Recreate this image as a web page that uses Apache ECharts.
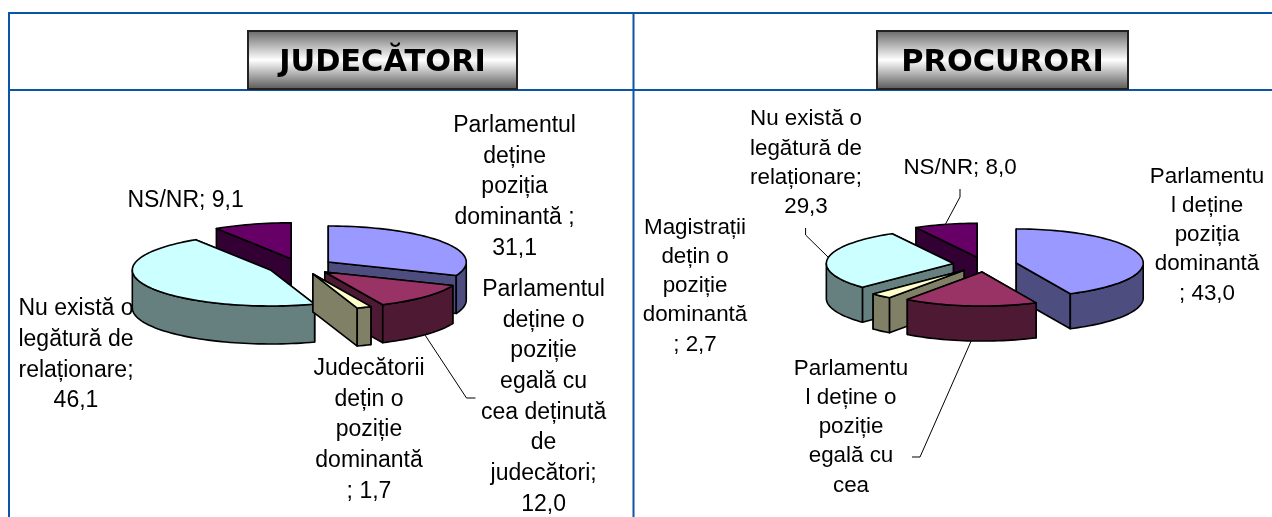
<!DOCTYPE html>
<html><head><meta charset="utf-8">
<style>html,body{margin:0;padding:0;background:#fff}#c{width:1272px;height:517px}</style>
<script src="https://cdn.jsdelivr.net/npm/echarts@6/dist/echarts.min.js"></script>
</head><body><div id="c"></div>
<script>
// ---- data
const judecatoriValues = [31.1, 12.0, 1.7, 46.1, 9.1];
const procuroriValues  = [43.0, 17.0, 2.7, 29.3, 8.0];
const judecatoriLabels = [
  ['Parlamentul','deține','poziția','dominantă ;','31,1'],
  ['Parlamentul','deține o','poziție','egală cu','cea deținută','de','judecători;','12,0'],
  ['Judecătorii','dețin o','poziție','dominantă','; 1,7'],
  ['Nu există o','legătură de','relaționare;','46,1'],
  ['NS/NR; 9,1']
];
const procuroriLabels = [
  ['Parlamentu','l deține','poziția','dominantă','; 43,0'],
  ['Parlamentu','l deține o','poziție','egală cu','cea'],
  ['Magistrații','dețin o','poziție','dominantă','; 2,7'],
  ['Nu există o','legătură de','relaționare;','29,3'],
  ['NS/NR; 8,0']
];
const titles = ['JUDECĂTORI','PROCURORI'];

// ---- styles and layout
const topColors  = ['#9999FF','#993366','#FFFFCC','#CCFFFF','#660066'];
const wallColors = ['#4D4D80','#4D1933','#808066','#668080','#330033'];
const pies = [
  {values:judecatoriValues, cx:300.5, cy:266.5, rx:138, ry:36, depth:38, ex:33.5, ey:8, order:[4,0,1,3,2]},
  {values:procuroriValues,  cx:985,   cy:264.6, rx:127, ry:34, depth:35, ex:32,   ey:7.5, order:[4,0,3,2,1]}
];
const labelLayout = [
  {lines:judecatoriLabels, size:23, lh:30.7, at:[[514.6,187],[543.6,397],[369,430],[76,355],[185.6,201]]},
  {lines:procuroriLabels,  size:22.4, lh:29.3, at:[[1207,235],[851,427],[695,286],[806,163],[960,168]]}
];
const leaders = [
  [[425,335],[466.5,398],[475.5,398]],
  [[960,189],[960,197],[945,225]],
  [[805.6,228],[805.6,235],[828,257]],
  [[972,339],[920,457],[912,457]]
];
const BLUE = '#0B55A6';
const rules = [[8,13,1272,13],[8,90,1272,90],[9,13,9,517],[633.5,13,633.5,517]];
const boxes = [[248,31,269,58],[877,31,251,58]];

const rad = d => d*Math.PI/180;
function sliceElements(p, i){
  const total = p.values.reduce((a,b)=>a+b,0);
  let before = 0; for(let k=0;k<i;k++) before += p.values[k];
  const a0 = before/total*360, a1 = (before+p.values[i])/total*360, mid=(a0+a1)/2;
  const ox = p.cx + p.ex*Math.sin(rad(mid)), oy = p.cy - p.ey*Math.cos(rad(mid));
  const pt = a => [ox+p.rx*Math.sin(rad(a)), oy-p.ry*Math.cos(rad(a))];
  const arc = (s,e) => { const r=[]; const n=Math.max(2,Math.ceil((e-s)/2));
    for(let k=0;k<=n;k++) r.push(pt(s+(e-s)*k/n)); return r; };
  const down = q => [q[0],q[1]+p.depth];
  const line = {stroke:'#000',lineWidth:1.6,lineJoin:'round'};
  const poly = (pts,fill) => ({type:'polygon',shape:{points:pts},style:Object.assign({fill:fill},line)});
  const wall = wallColors[i], top = topColors[i], apex=[ox,oy], kids=[];
  const w0 = poly([apex,pt(a0),down(pt(a0)),down(apex)],wall);
  const w1 = poly([apex,pt(a1),down(pt(a1)),down(apex)],wall);
  if(Math.sin(rad(a0))<0){ kids.push(w1,w0); } else { kids.push(w0,w1); }
  const s=Math.max(a0,90), e=Math.min(a1,270);
  if(e>s){ const r=arc(s,e); kids.push(poly(r.concat(r.map(down).reverse()),wall)); }
  kids.push(poly([apex].concat(arc(a0,a1)),top));
  return {type:'group',children:kids};
}

const graphic = [];
rules.forEach(r=>graphic.push({type:'line',shape:{x1:r[0],y1:r[1],x2:r[2],y2:r[3]},style:{stroke:BLUE,lineWidth:2}}));
boxes.forEach((b,k)=>{
  graphic.push({type:'rect',shape:{x:b[0],y:b[1],width:b[2],height:b[3]},
    style:{stroke:'#222',lineWidth:2,fill:new echarts.graphic.LinearGradient(0,0,0,1,[
      {offset:0,color:'#666'},{offset:0.5,color:'#fff'},{offset:1,color:'#555'}])}});
  graphic.push({type:'text',x:b[0]+b[2]/2,y:b[1]+32,style:{text:titles[k],font:'bold 30.4px "DejaVu Sans"',fill:'#000',align:'center',verticalAlign:'middle'}});
});
labelLayout.forEach(l=>l.lines.forEach((lines,i)=>{
  lines.forEach((t,j)=>graphic.push({type:'text',x:l.at[i][0],y:l.at[i][1]+(j-(lines.length-1)/2)*l.lh,
    style:{text:t,font:l.size+'px "Liberation Sans"',fill:'#000',align:'center',verticalAlign:'middle'}}));
}));
leaders.forEach(pts=>graphic.push({type:'polyline',shape:{points:pts},style:{stroke:'#000',lineWidth:1,fill:null}}));

const chart = echarts.init(document.getElementById('c'),null,{renderer:'canvas'});
chart.setOption({
  animation:false,
  backgroundColor:'#fff',
  graphic:{elements:graphic},
  series:pies.map(p=>({
    type:'custom',coordinateSystem:'none',z:5,silent:true,
    data:p.order.map(i=>[p.values[i]]),
    renderItem:params=>sliceElements(p,p.order[params.dataIndex])
  }))
});
</script></body></html>
